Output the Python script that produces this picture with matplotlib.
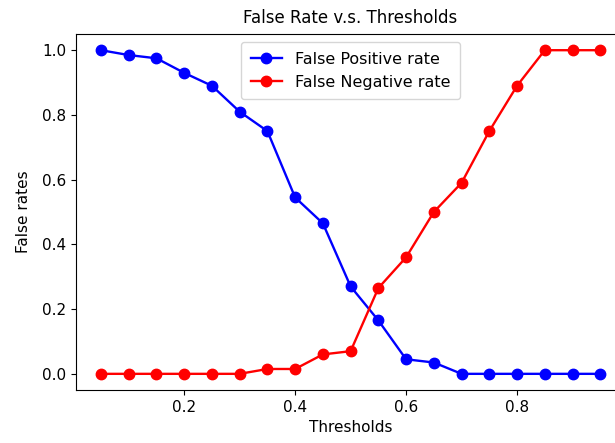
import matplotlib
matplotlib.use("Agg")
import matplotlib.pyplot as plt

# umbrales y tasas
thresholds = [0.05, 0.10, 0.15, 0.20, 0.25, 0.30, 0.35, 0.40, 0.45, 0.50,
              0.55, 0.60, 0.65, 0.70, 0.75, 0.80, 0.85, 0.90, 0.95]
false_pos = [1.0, 0.985, 0.975, 0.93, 0.89, 0.81, 0.75, 0.545, 0.465, 0.27,
             0.165, 0.045, 0.035, 0.0, 0.0, 0.0, 0.0, 0.0, 0.0]
false_neg = [0.0, 0.0, 0.0, 0.0, 0.0, 0.0, 0.015, 0.015, 0.06, 0.07,
             0.265, 0.36, 0.5, 0.59, 0.75, 0.89, 1.0, 1.0, 1.0]

plt.rcParams['font.size'] = 11

fig = plt.figure(figsize=(6.15, 4.43), dpi=100)
ax = fig.add_axes([0.1236, 0.1196, 0.893, 0.8036])

ax.plot(thresholds, false_pos, '-o', color='blue', markersize=7.5, linewidth=1.7, label='False Positive rate')
ax.plot(thresholds, false_neg, '-o', color='red', markersize=7.5, linewidth=1.7, label='False Negative rate')

ax.set_title('False Rate v.s. Thresholds', fontsize=12, pad=8)
ax.set_xlabel('Thresholds')
ax.set_ylabel('False rates', labelpad=8)
ax.legend(loc='upper center', fontsize=11.5, borderpad=0.6)

fig.savefig('out.png', dpi=100)
